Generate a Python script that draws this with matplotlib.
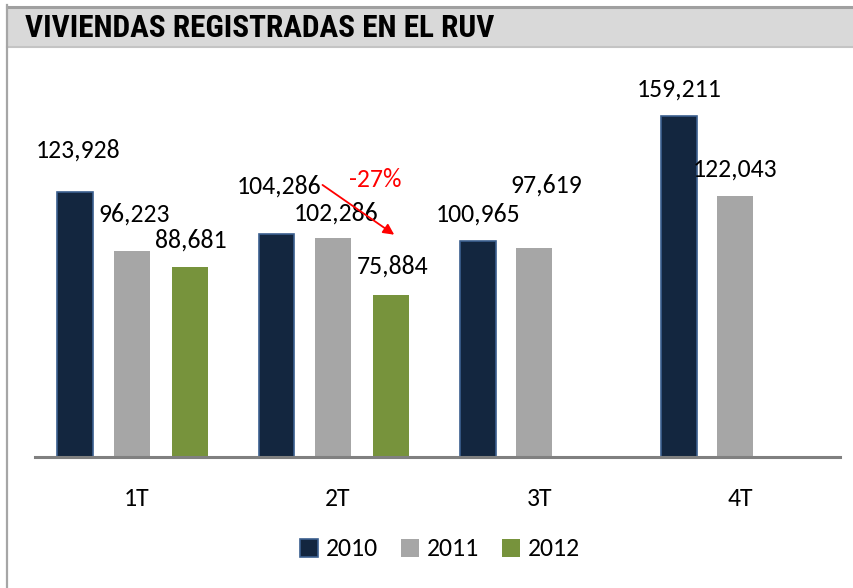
import matplotlib.pyplot as plt
import matplotlib.patches as patches
from matplotlib.transforms import offset_copy

# data
quarters = ["1T", "2T", "3T", "4T"]
years = ["2010", "2011", "2012"]
v2010 = [123928, 104286, 100965, 159211]
v2011 = [96223, 102286, 97619, 122043]
v2012 = [88681, 75884]

series = [v2010, v2011, v2012]
colors = ['#13263f', '#a6a6a6', '#77933c']
edges = ['#3b5f8f', '#a6a6a6', '#77933c']
offsets = [-0.30, -0.02, 0.27]
bar_w = 0.178

# label nudges in pixels (dx, dy) from each bar top
label_nudge = [
    [(3, 42), (3, 48), (0, 27), (0, 27)],
    [(3, 37), (3, 25), (12, 63), (0, 27)],
    [(1, 27), (1, 29)],
]

W, H = 854, 588
fig = plt.figure(figsize=(W / 100, H / 100), dpi=100, facecolor='white')

num_font = ['Carlito', 'DejaVu Sans']
title_font = ['Roboto Condensed', 'DejaVu Sans']

# frame + header band
fig.add_artist(patches.Rectangle((7 / W, 1 - 47 / H), 1, 40 / H, transform=fig.transFigure,
                                 facecolor='#d9d9d9', edgecolor='none'))
fig.add_artist(plt.Line2D([7 / W, 1], [1 - 6.5 / H, 1 - 6.5 / H], transform=fig.transFigure,
                          color='#a0a0a0', lw=2.2))
fig.add_artist(plt.Line2D([7 / W, 1], [1 - 47 / H, 1 - 47 / H], transform=fig.transFigure,
                          color='#c4c4c4', lw=1.5))
fig.add_artist(plt.Line2D([7 / W, 7 / W], [0, 1 - 5 / H], transform=fig.transFigure,
                          color='#a6a6a6', lw=1.6))
fig.text(25 / W, 1 - 28 / H, "VIVIENDAS REGISTRADAS EN EL RUV", fontsize=22.5,
         weight='bold', family=title_font, va='center', ha='left', color='#000000')

# axes: baseline at y=457px, scale ~0.00214 px per unit
ax = fig.add_axes([35 / W, (H - 457) / H, 805 / W, 385 / H])
ax.set_xlim(-0.5, 3.5)
ax.set_ylim(0, 180000)
for s in ['top', 'right', 'left']:
    ax.spines[s].set_visible(False)
ax.spines['bottom'].set_color('#808080')
ax.spines['bottom'].set_linewidth(2.2)
ax.set_yticks([])
ax.set_xticks([])

for k, vals in enumerate(series):
    xs = [i + offsets[k] for i in range(len(vals))]
    ax.bar(xs, vals, width=bar_w, color=colors[k], edgecolor=edges[k],
           linewidth=1.2 if k == 0 else 0, label=years[k], zorder=2)
    for i, v in enumerate(vals):
        dx, dy = label_nudge[k][i]
        ax.annotate(f"{v:,}", xy=(xs[i], v), xytext=(dx, dy), textcoords='offset pixels',
                    ha='center', va='center', fontsize=18.5, family=num_font)

for i, q in enumerate(quarters):
    ax.annotate(q, xy=(i, 0), xytext=(1, -42), textcoords='offset pixels',
                ha='center', va='center', fontsize=18.5, family=num_font)

# change arrow 2T 2010 -> 2T 2012
x0, y0 = 1 + offsets[0], v2010[1]
x1, y1 = 1 + offsets[2], v2012[1]
start = offset_copy(ax.transData, fig=fig, x=46, y=49, units='dots')
end = offset_copy(ax.transData, fig=fig, x=3, y=60, units='dots')
ax.annotate('', xy=(x1, y1), xycoords=end, xytext=(x0, y0), textcoords=start,
            arrowprops=dict(arrowstyle='-|>', color='#ff0000', lw=1.3, mutation_scale=16,
                            shrinkA=0, shrinkB=0))
pct = round((v2012[1] / v2010[1] - 1) * 100)
ax.annotate(f"{pct}%", xy=(x1, y1), xytext=(-16, 115), textcoords='offset pixels',
            ha='center', va='center', fontsize=18.5, color='#ff0000', family=num_font)

fig.legend(loc='center', bbox_to_anchor=(440 / W, 1 - 549 / H), ncol=3, frameon=False,
           prop={'family': num_font, 'size': 18.5}, handlelength=0.7, handleheight=0.7,
           handletextpad=0.3, columnspacing=0.9)

fig.savefig('out.png', dpi=100, facecolor='white')
